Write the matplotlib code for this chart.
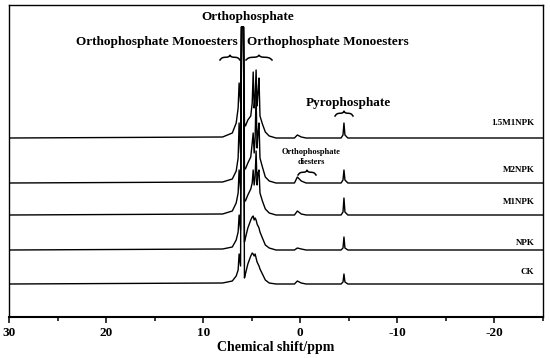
import numpy as np
import matplotlib
matplotlib.use("Agg")
import matplotlib.pyplot as plt

plt.rcParams["axes.unicode_minus"] = False

# key points (ppm, height above each trace's baseline)
ppm = [30, 8.0, 7.0, 6.6, 6.4, 6.3, 6.15, 6.05, 5.85, 5.75, 5.65, 5.4, 5.1,
       4.95, 4.85, 4.75, 4.65, 4.55, 4.45, 4.35, 4.25, 4.15, 3.9, 3.6, 3.2,
       2.5, 0.6, 0.3, -0.1, -0.6, -4.2, -4.4, -4.5, -4.6, -4.9, -25]

samples = ["1.5M1NPK", "M2NPK", "M1NPK", "NPK", "CK"]
baselines = [179, 134, 102, 67, 33]
label_y = [194, 147, 115, 74, 45]

h_15m1npk = [0, 1, 5, 15, 30, 55, 35, 111, 111, 15, 12, 18, 22, 35, 66, 30,
             40, 68, 32, 45, 60, 22, 14, 6, 2, 0, 0, 3, 1, 0, 0, 3, 15, 3, 0, 0]
h_m2npk = [0, 1, 4, 12, 25, 60, 30, 156, 156, 15, 14, 20, 26, 40, 50, 30, 45,
           88, 35, 50, 60, 25, 16, 6, 2, 0, 0, 6, 2, 0, 0, 3, 13, 3, 0, 0]
h_m1npk = [0, 1, 4, 12, 22, 45, 25, 188, 188, 14, 14, 20, 26, 32, 45, 30, 38,
           64, 30, 42, 45, 22, 14, 6, 2, 0, 0, 4, 1, 0, 0, 3, 17, 3, 0, 0]
h_npk = [0, 1, 3, 10, 18, 35, 20, 223, 223, 8, 12, 22, 30, 33, 34, 30, 32, 30,
         26, 24, 22, 18, 12, 5, 2, 0, 0, 2, 1, 0, 0, 2, 13, 2, 0, 0]
h_ck = [0, 1, 3, 8, 14, 30, 18, 257, 257, 6, 10, 20, 28, 31, 30, 28, 30, 26,
        22, 20, 18, 15, 10, 4, 1, 0, 0, 3, 1, 0, 0, 2, 10, 2, 0, 0]
heights = [h_15m1npk, h_m2npk, h_m1npk, h_npk, h_ck]

serif = "Liberation Serif"

fig = plt.figure(figsize=(5.5, 3.58), dpi=100)
ax = fig.add_axes([9 / 550, 41 / 358, 534 / 550, 312 / 358])

for name, base, h, ly in zip(samples, baselines, heights, label_y):
    ax.plot(ppm, np.array(h) + base, color="black", lw=1.0)
    ax.text(-24.1, ly, name, ha="right", va="center", fontsize=6.5,
            fontweight="bold", family=serif)


def brace(x0, x1, y, h=5):
    # curly brace "~^~" drawn over a peak group
    t = np.linspace(0, 1, 80)
    s = np.where(t < 0.5, t * 2, (1 - t) * 2)
    yy = y + h * (0.55 * np.tanh(s * 4.5) + 0.45 * np.exp(-(1 - s) * 10))
    ax.plot(x0 + (x1 - x0) * t, yy, color="black", lw=1.1)


ax.text(5.38, 300, "Orthophosphate", ha="center", va="center", fontsize=9.5,
        fontweight="bold", family=serif)
ax.text(6.41, 275, "Orthophosphate Monoesters", ha="right", va="center",
        fontsize=9.5, fontweight="bold", family=serif)
ax.text(5.49, 275, "Orthophosphate Monoesters", ha="left", va="center",
        fontsize=9.5, fontweight="bold", family=serif)
brace(8.27, 6.21, 257)
brace(5.59, 2.91, 257)
ax.text(-0.59, 214, "Pyrophosphate", ha="left", va="center", fontsize=9.5,
        fontweight="bold", family=serif)
brace(-3.58, -5.43, 201)
ax.text(-1.1, 160, "Orthophosphate\ndiesters", ha="center", va="center",
        fontsize=6, fontweight="bold", family=serif, linespacing=1.3)
brace(0.23, -1.62, 142)

ax.set_xlim(30, -25)
ax.set_ylim(0, 312)
ax.set_yticks([])
ax.set_xticks([30, 20, 10, 0, -10, -20])
ax.set_xticks([25, 15, 5, -5, -15, -25], minor=True)
ax.tick_params(axis="x", which="major", direction="out", length=4.5, width=1.1,
               pad=3)
ax.tick_params(axis="x", which="minor", direction="out", length=3, width=1.1)
for lab in ax.get_xticklabels():
    lab.set_fontfamily(serif)
    lab.set_fontweight("bold")
    lab.set_fontsize(9.5)
ax.set_xlabel("Chemical shift/ppm", fontsize=10, fontweight="bold",
              family=serif, labelpad=1)
for sp in ax.spines.values():
    sp.set_linewidth(1.0)
ax.spines["bottom"].set_linewidth(1.5)

fig.savefig("out.png", dpi=100)
